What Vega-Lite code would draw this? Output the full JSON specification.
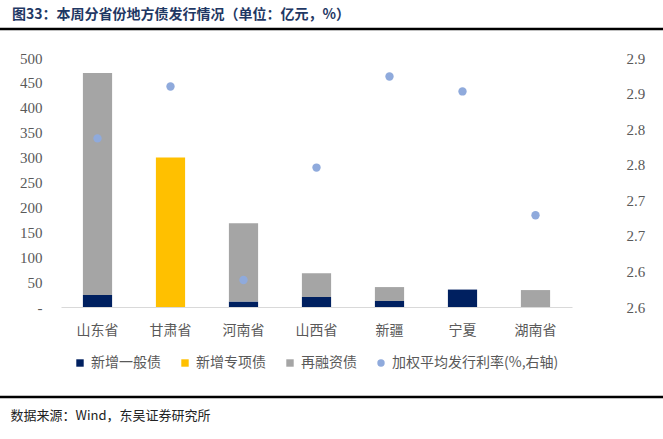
{
  "$schema": "https://vega.github.io/schema/vega-lite/v6.json",
  "autosize": "none",
  "width": 511,
  "height": 249,
  "padding": {"left": 61, "top": 58, "right": 91, "bottom": 132},
  "background": "white",
  "config": {
    "view": {"stroke": null},
    "font": "Liberation Serif, Noto Sans CJK SC",
    "axis": {"labelFont": "Liberation Serif, Noto Sans CJK SC", "labelColor": "#595959", "grid": false, "ticks": false}
  },
  "title": {
    "text": "图33：本周分省份地方债发行情况（单位：亿元，%）",
    "anchor": "start",
    "frame": "group",
    "dx": -49,
    "offset": 6,
    "fontSize": 14,
    "fontWeight": "bold",
    "font": "Noto Sans CJK SC",
    "color": "#1F3864"
  },
  "datasets": {
    "bars": [
      {"province": "山东省", "series": "新增一般债", "value": 24},
      {"province": "山东省", "series": "再融资债", "value": 446},
      {"province": "甘肃省", "series": "新增专项债", "value": 300},
      {"province": "河南省", "series": "新增一般债", "value": 11},
      {"province": "河南省", "series": "再融资债", "value": 157},
      {"province": "山西省", "series": "新增一般债", "value": 20},
      {"province": "山西省", "series": "再融资债", "value": 48},
      {"province": "新疆", "series": "新增一般债", "value": 12},
      {"province": "新疆", "series": "再融资债", "value": 28},
      {"province": "宁夏", "series": "新增一般债", "value": 35},
      {"province": "湖南省", "series": "再融资债", "value": 34}
    ],
    "rates": [
      {"province": "山东省", "series": "加权平均发行利率(%,右轴)", "rate": 2.787},
      {"province": "甘肃省", "series": "加权平均发行利率(%,右轴)", "rate": 2.860},
      {"province": "河南省", "series": "加权平均发行利率(%,右轴)", "rate": 2.588},
      {"province": "山西省", "series": "加权平均发行利率(%,右轴)", "rate": 2.746},
      {"province": "新疆", "series": "加权平均发行利率(%,右轴)", "rate": 2.874},
      {"province": "宁夏", "series": "加权平均发行利率(%,右轴)", "rate": 2.853},
      {"province": "湖南省", "series": "加权平均发行利率(%,右轴)", "rate": 2.679}
    ]
  },
  "layer": [
    {
      "data": {"name": "bars"},
      "mark": {"type": "bar"},
      "encoding": {
        "x": {
          "field": "province", "type": "nominal",
          "sort": ["山东省", "甘肃省", "河南省", "山西省", "新疆", "宁夏", "湖南省"],
          "scale": {"paddingInner": 0.6, "paddingOuter": 0.3},
          "axis": {
            "labelAngle": 0, "labelFontSize": 14, "labelPadding": 16,
            "domainColor": "#D9D9D9", "domainWidth": 1,
            "title": "数据来源：Wind，东吴证券研究所",
            "titleFontSize": 13, "titleFontWeight": "normal", "titleColor": "#222222",
            "titleFont": "Noto Sans CJK SC",
            "titleX": -51, "titleY": 108, "titleAlign": "left", "titleAnchor": null, "titleBaseline": "middle"
          }
        },
        "y": {
          "field": "value", "type": "quantitative", "stack": "zero",
          "scale": {"domain": [0, 500], "nice": false},
          "axis": {
            "values": [0, 50, 100, 150, 200, 250, 300, 350, 400, 450, 500],
            "labelExpr": "datum.value == 0 ? '-' : datum.label",
            "labelFontSize": 15, "labelPadding": 19, "domain": false, "title": null
          }
        },
        "color": {
          "field": "series", "type": "nominal",
          "scale": {
            "domain": ["新增一般债", "新增专项债", "再融资债", "加权平均发行利率(%,右轴)"],
            "range": ["#002060", "#FFC000", "#A5A5A5", "#8FAADC"]
          },
          "legend": {
            "orient": "none", "legendX": 12, "legendY": 298,
            "direction": "horizontal", "title": null,
            "symbolSize": 55, "labelFontSize": 14, "labelColor": "#595959",
            "labelFont": "Noto Sans CJK SC", "labelLimit": 400,
            "columnPadding": 17, "labelOffset": 4,
            "encode": {"symbols": {"update": {"shape": {"signal": "datum.value === '加权平均发行利率(%,右轴)' ? 'circle' : 'square'"}}}}
          }
        },
        "order": {"field": "series", "sort": "descending"}
      }
    },
    {
      "data": {"name": "rates"},
      "mark": {"type": "point", "filled": true, "size": 70, "opacity": 1},
      "encoding": {
        "x": {"field": "province", "type": "nominal", "sort": ["山东省", "甘肃省", "河南省", "山西省", "新疆", "宁夏", "湖南省"]},
        "y": {
          "field": "rate", "type": "quantitative",
          "scale": {"domain": [2.55, 2.9], "nice": false, "zero": false},
          "axis": {
            "orient": "right",
            "values": [2.55, 2.6, 2.65, 2.7, 2.75, 2.8, 2.85, 2.9],
            "labelExpr": "format(datum.value + 0.0001, '.1f')",
            "labelFontSize": 15, "labelPadding": 54, "domain": false, "title": null
          }
        },
        "color": {"field": "series", "type": "nominal"}
      }
    },
    {
      "data": {"values": [{}]},
      "mark": {"type": "rule", "color": "black", "strokeWidth": 2.5},
      "encoding": {
        "x": {"value": -61},
        "x2": {"value": 602},
        "y": {"value": -29}
      }
    },
    {
      "data": {"values": [{}]},
      "mark": {"type": "rule", "color": "black", "strokeWidth": 2.5},
      "encoding": {
        "x": {"value": -61},
        "x2": {"value": 602},
        "y": {"value": 339}
      }
    }
  ],
  "resolve": {"scale": {"y": "independent"}}
}
